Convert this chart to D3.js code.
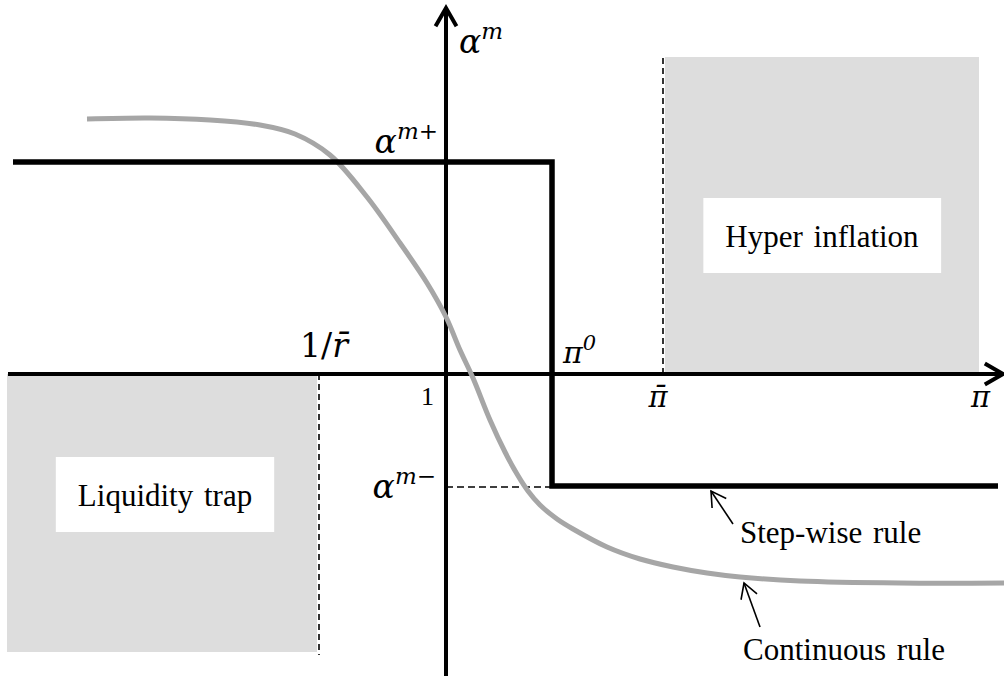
<!DOCTYPE html>
<html lang="en">
  <meta charset="utf-8">
  <style>
    body{ margin: 0; background: #fff; }
    .txt{ font-family: "Liberation Serif", "Times New Roman", serif; fill: #000; }
    .math{ font-family: "DejaVu Serif", serif; font-style: italic; fill: #000; }
  </style>
  <body>
    <svg width="1004" height="676"></svg>

    <script src="https://d3js.org/d3.v7.min.js"></script>
    <script>
      // policy levels (chart units, origin where the axes cross)
      let alphaPlus = 2.12
      let alphaMinus = -1.12
      let pi0 = 1.06
      let invRbar = -1.27
      let piBar = 2.17

      // step-wise rule
      let stepX = [-4.33, pi0, pi0, 5.52]
      let stepY = [alphaPlus, alphaPlus, alphaMinus, alphaMinus]

      // continuous rule
      let contX = [-3.59, -2.96, -2.36, -1.86, -1.51, -1.16, -0.79, -0.46, -0.19, 0.00, 0.14, 0.27, 0.44, 0.59, 0.71, 0.82, 0.94, 1.11, 1.27, 1.61, 1.94, 2.27, 2.61, 2.94, 3.54, 4.54, 5.58]
      let contY = [2.55, 2.56, 2.54, 2.49, 2.40, 2.19, 1.77, 1.31, 0.91, 0.57, 0.24, -0.04, -0.46, -0.78, -1.00, -1.17, -1.31, -1.45, -1.55, -1.73, -1.85, -1.93, -1.99, -2.03, -2.07, -2.09, -2.09]

      // shaded zones
      let zoneNames = ['Liquidity trap', 'Hyper inflation']
      let zoneX0 = [-4.39, 2.19]
      let zoneX1 = [invRbar - 0.02, 5.33]
      let zoneY0 = [-2.78, 0]
      let zoneY1 = [0, 3.17]

      let svg = d3.select('svg')
      let x = d3.scaleLinear().domain([-4.46, 5.58]).range([0, 1004])
      let y = d3.scaleLinear().domain([-3.02, 3.74]).range([676, 0])

      // open arrow head drawn at (tx,ty) pointing away from (fx,fy)
      function arrowHead(g, fx, fy, tx, ty, len, w) {
        let a = Math.atan2(fy - ty, fx - tx)
        let d = 30 * Math.PI / 180
        let p = [[tx + len * Math.cos(a - d), ty + len * Math.sin(a - d)], [tx, ty], [tx + len * Math.cos(a + d), ty + len * Math.sin(a + d)]]
        g.append('path')
         .attr('d', d3.line()(p))
         .attr('fill', 'none')
         .attr('stroke', '#000')
         .attr('stroke-width', w)
         .attr('stroke-linejoin', 'miter')
      }

      // zones
      let zones = zoneNames.map((n, i) => ({ name: n, x0: zoneX0[i], x1: zoneX1[i], y0: zoneY0[i], y1: zoneY1[i] }))
      svg.append('g').selectAll('rect')
         .data(zones).enter()
         .append('rect')
         .attr('x', d => x(d.x0))
         .attr('y', d => y(d.y1))
         .attr('width', d => x(d.x1) - x(d.x0))
         .attr('height', d => y(d.y0) - y(d.y1))
         .attr('fill', '#dddddd')

      // zone labels on white boxes
      let boxCenters = [[165, 494], [822, 235]]
      zones.forEach((d, i) => {
        let g = svg.append('g')
        let t = g.append('text')
                 .attr('class', 'txt')
                 .attr('x', boxCenters[i][0])
                 .attr('y', boxCenters[i][1] + 12)
                 .attr('text-anchor', 'middle')
                 .attr('font-size', 31)
                 .attr('word-spacing', 3)
                 .text(d.name)
        let bb = t.node().getBBox()
        g.insert('rect', 'text')
         .attr('x', bb.x - 22)
         .attr('y', boxCenters[i][1] - 37)
         .attr('width', bb.width + 44)
         .attr('height', 75)
         .attr('fill', '#fff')
      })

      // dashed guides
      let dash = svg.append('g')
                    .attr('stroke', '#000')
                    .attr('stroke-width', 1.6)
                    .attr('stroke-dasharray', '6,4')
      dash.append('line')
          .attr('x1', x(invRbar)).attr('x2', x(invRbar))
          .attr('y1', y(0)).attr('y2', y(zoneY0[0]) + 3)
      dash.append('line')
          .attr('x1', x(piBar)).attr('x2', x(piBar))
          .attr('y1', y(0)).attr('y2', y(zoneY1[1]))
      dash.append('line')
          .attr('x1', x(0)).attr('x2', x(pi0))
          .attr('y1', y(alphaMinus) + 1).attr('y2', y(alphaMinus) + 1)
          .attr('stroke-dasharray', '7,4')

      // axes
      let axes = svg.append('g')
      axes.append('line')
          .attr('x1', x(-4.38)).attr('x2', x(5.56))
          .attr('y1', y(0)).attr('y2', y(0))
          .attr('stroke', '#000').attr('stroke-width', 4)
      axes.append('line')
          .attr('x1', x(0)).attr('x2', x(0))
          .attr('y1', y(-3.02)).attr('y2', y(3.65))
          .attr('stroke', '#000').attr('stroke-width', 4)
      arrowHead(axes, x(0), y(0), x(0), y(3.66), 21, 4)
      arrowHead(axes, x(0), y(0), x(5.57), y(0), 21, 4)

      // continuous rule
      let contData = contX.map((v, i) => [v, contY[i]])
      svg.append('path')
         .attr('d', d3.line().x(d => x(d[0])).y(d => y(d[1])).curve(d3.curveCatmullRom.alpha(0.5))(contData))
         .attr('fill', 'none')
         .attr('stroke', '#a6a6a6')
         .attr('stroke-width', 5)

      // step-wise rule
      let stepData = stepX.map((v, i) => [v, stepY[i]])
      svg.append('path')
         .attr('d', d3.line().x(d => x(d[0])).y(d => y(d[1]))(stepData))
         .attr('fill', 'none')
         .attr('stroke', '#000')
         .attr('stroke-width', 5.5)
         .attr('stroke-linejoin', 'miter')

      // math labels
      function supLabel(px, py, base, sup, anchor, size, supSize) {
        let t = svg.append('text')
                   .attr('class', 'math')
                   .attr('x', px).attr('y', py)
                   .attr('text-anchor', anchor)
                   .attr('font-size', size)
        t.append('tspan').text(base)
        t.append('tspan')
         .attr('dy', -size * 0.42)
         .attr('font-size', supSize)
         .text(sup)
        return t
      }
      supLabel(x(0) + 13, 53, 'α', 'm', 'start', 33, 23)
      supLabel(x(0) - 8, y(alphaPlus) - 9, 'α', 'm+', 'end', 33, 23)
      supLabel(x(0) - 10, y(alphaMinus) + 12, 'α', 'm−', 'end', 33, 23)
      supLabel(x(pi0) + 11, y(0) - 11, 'π', '0', 'start', 30, 21)

      let rl = svg.append('text')
                  .attr('class', 'math')
                  .attr('x', x(invRbar) + 29).attr('y', y(0) - 17)
                  .attr('text-anchor', 'end')
                  .attr('font-size', 33)
      rl.append('tspan').attr('font-style', 'normal').text('1/')
      rl.append('tspan').text('r̄')

      svg.append('text')
         .attr('class', 'math')
         .attr('x', x(piBar) - 5).attr('y', y(0) + 33)
         .attr('text-anchor', 'middle')
         .attr('font-size', 29)
         .text('π̄')
      svg.append('text')
         .attr('class', 'math')
         .attr('x', x(5.25)).attr('y', y(0) + 33)
         .attr('font-size', 29)
         .text('π')
      svg.append('text')
         .attr('class', 'txt')
         .attr('x', x(0) - 12).attr('y', y(0) + 31)
         .attr('text-anchor', 'end')
         .attr('font-size', 26)
         .text('1')

      // rule annotations
      let notes = svg.append('g')
      notes.append('line')
           .attr('x1', 733).attr('y1', 524).attr('x2', 711).attr('y2', 491)
           .attr('stroke', '#000').attr('stroke-width', 1.6)
      arrowHead(notes, 733, 524, 711, 491, 17, 1.6)
      notes.append('line')
           .attr('x1', 760).attr('y1', 627).attr('x2', 744).attr('y2', 583)
           .attr('stroke', '#000').attr('stroke-width', 1.6)
      arrowHead(notes, 760, 627, 744, 583, 17, 1.6)
      notes.append('text')
           .attr('class', 'txt')
           .attr('x', 740).attr('y', 543)
           .attr('font-size', 31)
           .attr('word-spacing', 3)
           .text('Step-wise rule')
      notes.append('text')
           .attr('class', 'txt')
           .attr('x', 743).attr('y', 660)
           .attr('font-size', 31)
           .attr('word-spacing', 3)
           .text('Continuous rule')
    </script>
</body>
</html>
